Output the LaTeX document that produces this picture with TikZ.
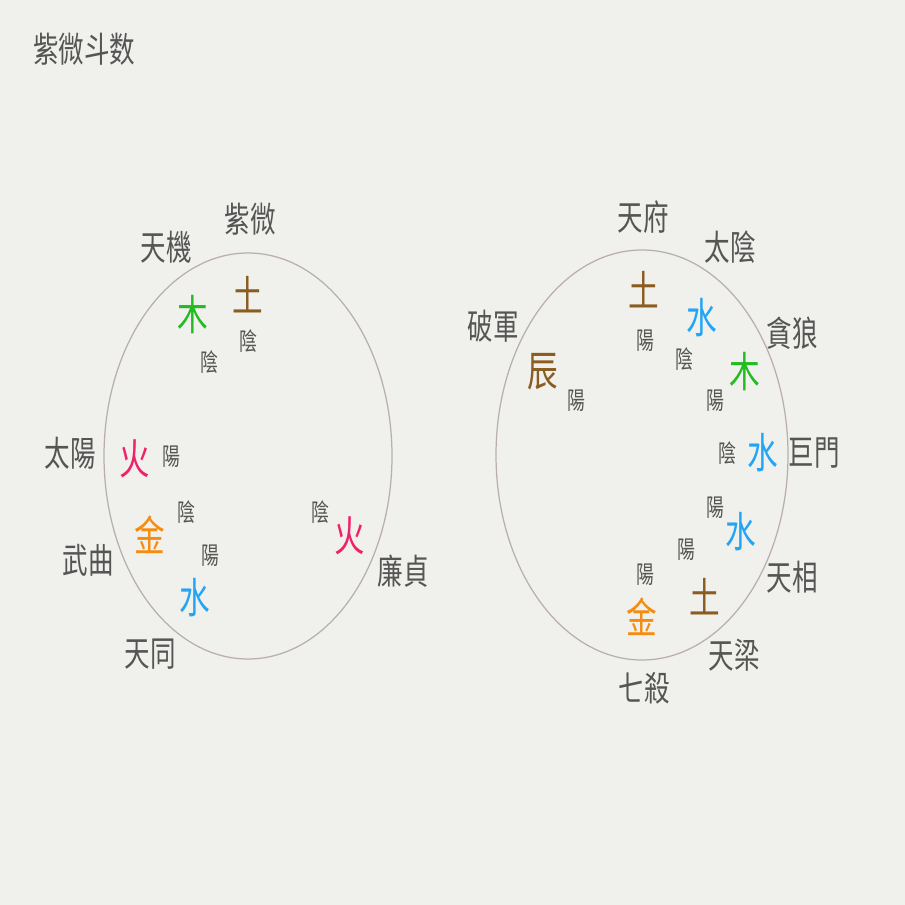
\documentclass[tikz,border=0pt]{standalone}
\usepackage{xcolor}
\usepackage{fontspec}
\usepackage{tikz}
\newfontfamily\cjkfont[FakeStretch=0.73]{Noto Sans CJK TC}
\definecolor{bgcolor}{HTML}{F0F0EC}
\definecolor{inkcolor}{HTML}{555555}
\definecolor{ringcolor}{HTML}{B8AEAE}
\definecolor{woodcolor}{HTML}{22BB22}
\definecolor{earthcolor}{HTML}{8A5C20}
\definecolor{firecolor}{HTML}{F0206A}
\definecolor{metalcolor}{HTML}{F58C10}
\definecolor{watercolor}{HTML}{22A5F5}
\tikzset{
  starlabel/.style={text=inkcolor, inner sep=0pt, font=\cjkfont\fontsize{0.70cm}{0.80cm}\selectfont},
  elemchar/.style={inner sep=0pt, font=\cjkfont\fontsize{0.84cm}{0.96cm}\selectfont},
  yinyang/.style={text=inkcolor, inner sep=0pt, font=\cjkfont\fontsize{0.49cm}{0.56cm}\selectfont},
  ring/.style={draw=ringcolor, line width=0.7pt},
}

\begin{document}
\begin{tikzpicture}[x=0.02cm, y=-0.02cm]%
\fill[bgcolor] (0,0) rectangle (905,905);%
\useasboundingbox (0,0) rectangle (905,905);%
\node[starlabel, anchor=west] (title) at (33,49) {紫微斗数};%
% left chart
\draw[ring] (248,456) ellipse [x radius=144, y radius=203];%
\node[starlabel] (ziwei) at (250,219) {紫微};%
\node[starlabel] (tianji) at (166,247) {天機};%
\node[starlabel] (taiyang) at (70,453) {太陽};%
\node[starlabel] (wuqu) at (88,560) {武曲};%
\node[starlabel] (tiantong) at (150,654) {天同};%
\node[starlabel] (lianzhen) at (403,571) {廉貞};%
\node[elemchar, text=earthcolor] (ziwei-e) at (248,295) {土};%
\node[yinyang] (ziwei-y) at (248,341) {陰};%
\node[elemchar, text=woodcolor] (tianji-e) at (193,315) {木};%
\node[yinyang] (tianji-y) at (209,362) {陰};%
\node[elemchar, text=firecolor] (taiyang-e) at (135,459) {火};%
\node[yinyang] (taiyang-y) at (171,457) {陽};%
\node[elemchar, text=metalcolor] (wuqu-e) at (150,535) {金};%
\node[yinyang] (wuqu-y) at (186,512) {陰};%
\node[elemchar, text=watercolor] (tiantong-e) at (195,598) {水};%
\node[yinyang] (tiantong-y) at (210,556) {陽};%
\node[elemchar, text=firecolor] (lianzhen-e) at (350,536) {火};%
\node[yinyang] (lianzhen-y) at (320,512) {陰};%
% right chart
\draw[ring] (642,455) ellipse [x radius=146, y radius=205];%
\node[starlabel] (tianfu) at (643,217) {天府};%
\node[starlabel] (taiyin) at (730,247) {太陰};%
\node[starlabel] (pojun) at (493,326) {破軍};%
\node[starlabel] (tanlang) at (792,333) {貪狼};%
\node[starlabel] (jumen) at (814,453) {巨門};%
\node[starlabel] (tianxiang) at (792,577) {天相};%
\node[starlabel] (tianliang) at (734,655) {天梁};%
\node[starlabel] (qisha) at (644,688) {七殺};%
\node[elemchar, text=earthcolor] (tianfu-e) at (644,290) {土};%
\node[yinyang] (tianfu-y) at (645,341) {陽};%
\node[elemchar, text=watercolor] (taiyin-e) at (702,318) {水};%
\node[yinyang] (taiyin-y) at (684,359) {陰};%
\node[elemchar, text=earthcolor] (pojun-e) at (543,372) {辰};%
\node[yinyang] (pojun-y) at (576,401) {陽};%
\node[elemchar, text=woodcolor] (tanlang-e) at (745,372) {木};%
\node[yinyang] (tanlang-y) at (715,401) {陽};%
\node[elemchar, text=watercolor] (jumen-e) at (763,453) {水};%
\node[yinyang] (jumen-y) at (727,453) {陰};%
\node[elemchar, text=watercolor] (tianxiang-e) at (741,532) {水};%
\node[yinyang] (tianxiang-y) at (715,508) {陽};%
\node[elemchar, text=earthcolor] (tianliang-e) at (705,597) {土};%
\node[yinyang] (tianliang-y) at (686,550) {陽};%
\node[elemchar, text=metalcolor] (qisha-e) at (642,617) {金};%
\node[yinyang] (qisha-y) at (645,575) {陽};%
\end{tikzpicture}
\end{document}
